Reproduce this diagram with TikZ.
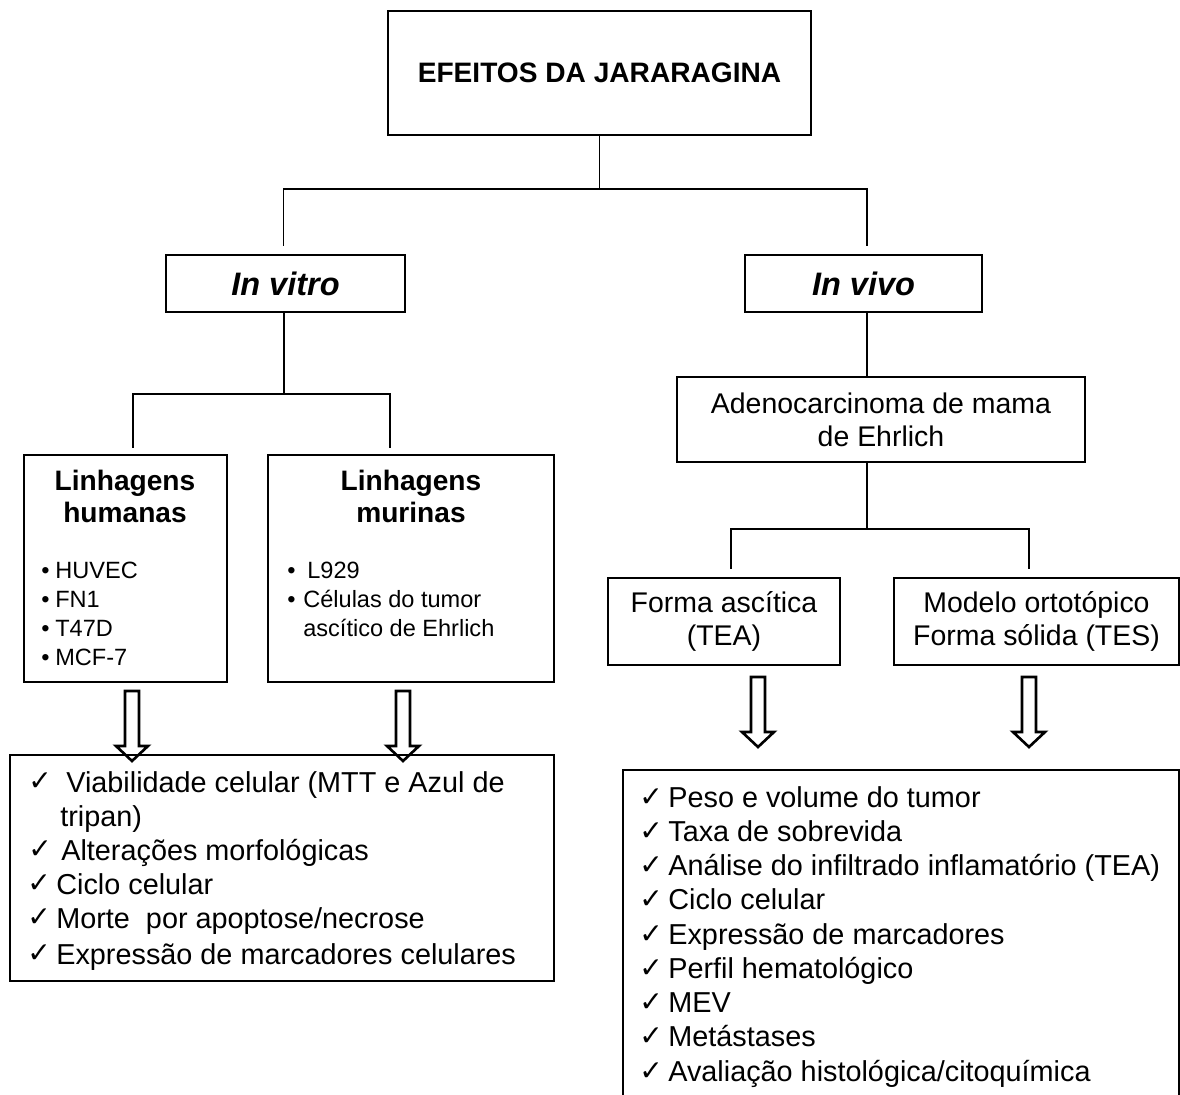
\documentclass[tikz,border=0pt]{standalone}
\usepackage{fontspec}
\setmainfont{Liberation Sans}
\newfontfamily\symf{DejaVu Sans}
\begin{document}
\begin{tikzpicture}[x=0.02cm,y=-0.02cm,
  box/.style={draw, line width=0.9pt, inner sep=0pt, align=center},
  conn/.style={line width=0.9pt},
  big/.style={font=\fontsize{16.2}{18.7}\selectfont},
  bigb/.style={font=\fontsize{16}{18.7}\selectfont\bfseries},
  ital/.style={font=\fontsize{18.5}{20}\selectfont\bfseries\itshape},
  item/.style={anchor=base west, inner sep=0pt, font=\fontsize{16.4}{18.7}\selectfont},
  sitem/.style={anchor=base west, inner sep=0pt, font=\fontsize{13.4}{15}\selectfont},
  chk/.style={anchor=base west, inner sep=0pt, font=\symf\fontsize{16}{17}\selectfont},
  blockarrow/.pic={\draw[line width=1.5pt] (-7,0) -- (-7,55) -- (-16,55) -- (0,70) -- (16,55) -- (7,55) -- (7,0) -- cycle;}
]
\useasboundingbox (0,0) rectangle (1180,1095);
\begin{scope}
\clip (0,0) rectangle (1180,1095);
% boxes
\node[box, bigb, minimum width=423*0.02cm, minimum height=124*0.02cm] (top) at (599.5,73) {EFEITOS DA JARARAGINA};
\node[box, ital, minimum width=239*0.02cm, minimum height=57*0.02cm] (vitro) at (285.5,283.5) {In vitro};
\node[box, ital, minimum width=237*0.02cm, minimum height=57*0.02cm] (vivo) at (863.5,283.5) {In vivo};
\node[box, minimum width=203*0.02cm, minimum height=227*0.02cm] (hum) at (125.5,568.5) {};
\node[box, minimum width=286*0.02cm, minimum height=227*0.02cm] (mur) at (411,568.5) {};
\node[box, minimum width=544*0.02cm, minimum height=226*0.02cm] (resL) at (282,868) {};
\node[box, big, minimum width=408*0.02cm, minimum height=85*0.02cm] (adeno) at (881,419.5) {Adenocarcinoma de mama\\de Ehrlich};
\node[box, big, minimum width=232*0.02cm, minimum height=87*0.02cm] (asc) at (724,621.5) {Forma ascítica\\(TEA)};
\node[box, big, minimum width=285*0.02cm, minimum height=87*0.02cm] (mod) at (1036.5,621.5) {Modelo ortotópico\\Forma sólida (TES)};
\node[box, minimum width=556*0.02cm, minimum height=360*0.02cm] (resR) at (901,950) {};

% connectors
\draw[conn] (top.south) -- ++(0,53) coordinate (j1) -| ([xshift=-0.04cm,yshift=0.16cm]vitro.north);
\draw[conn] (j1) -| ([xshift=0.07cm,yshift=0.16cm]vivo.north);
\draw[conn] ([xshift=-0.03cm]vitro.south) -- ++(0,81) coordinate (j2) -| ([xshift=0.15cm,yshift=0.12cm]hum.north);
\draw[conn] (j2) -| ([xshift=-0.42cm,yshift=0.12cm]mur.north);
\draw[conn] ([xshift=0.07cm]vivo.south) -- ([xshift=0.07cm]vivo.south |- adeno.north);
\draw[conn] ([xshift=-0.28cm]adeno.south) -- ++(0,66) coordinate (j3) -| ([xshift=0.14cm,yshift=0.16cm]asc.north);
\draw[conn] (j3) -| ([xshift=-0.15cm,yshift=0.16cm]mod.north);

% titles in line boxes
\node[align=center, font=\fontsize{16}{18.2}\selectfont\bfseries] (humt) at (125,496) {Linhagens\\humanas};
\node[align=center, font=\fontsize{16}{18.2}\selectfont\bfseries] (murt) at (411,496) {Linhagens\\murinas};

% human lines
\node[sitem] (hb1) at (41,578) {\textbullet};
\node[sitem] (h1) at (55,578) {HUVEC};
\node[sitem] (hb2) at (41,607) {\textbullet};
\node[sitem] (h2) at (55,607) {FN1};
\node[sitem] (hb3) at (41,636) {\textbullet};
\node[sitem] (h3) at (55,636) {T47D};
\node[sitem] (hb4) at (41,665) {\textbullet};
\node[sitem] (h4) at (55,665) {MCF-7};

% murine lines
\node[sitem] (mb1) at (287,578) {\textbullet};
\node[sitem] (m1) at (307,578) {L929};
\node[sitem] (mb2) at (287,607) {\textbullet};
\node[sitem] (m2) at (303,607) {Células do tumor};
\node[sitem] (m3) at (303,636) {ascítico de Ehrlich};

% block arrows
\pic at (132,691) {blockarrow};
\pic at (403,691) {blockarrow};
\pic at (758,677) {blockarrow};
\pic at (1029,677) {blockarrow};

% left results
\node[chk] (lc1) at (28,790) {✓};
\node[item] (l1) at (66,792) {Viabilidade celular (MTT e Azul de};
\node[item] (l2) at (60,826) {tripan)};
\node[chk] (lc3) at (28,858) {✓};
\node[item] (l3) at (61,860) {Alterações morfológicas};
\node[chk] (lc4) at (27,892) {✓};
\node[item] (l4) at (56,894) {Ciclo celular};
\node[chk] (lc5) at (27,926) {✓};
\node[item] (l5) at (56,928) {Morte\ \ por apoptose/necrose};
\node[chk] (lc6) at (27,962) {✓};
\node[item] (l6) at (56,964) {Expressão de marcadores celulares};

% right results
\foreach \t [count=\i from 0] in {Peso e volume do tumor, Taxa de sobrevida, Análise do infiltrado inflamatório (TEA), Ciclo celular, Expressão de marcadores, Perfil hematológico, MEV, Metástases, Avaliação histológica/citoquímica}{
  \pgfmathsetmacro{\yy}{807+34.25*\i}
  \node[chk] (rc\i) at (639,\yy-1) {✓};
  \node[item] (r\i) at (668,\yy) {\t};
}
\end{scope}
\end{tikzpicture}
\end{document}
